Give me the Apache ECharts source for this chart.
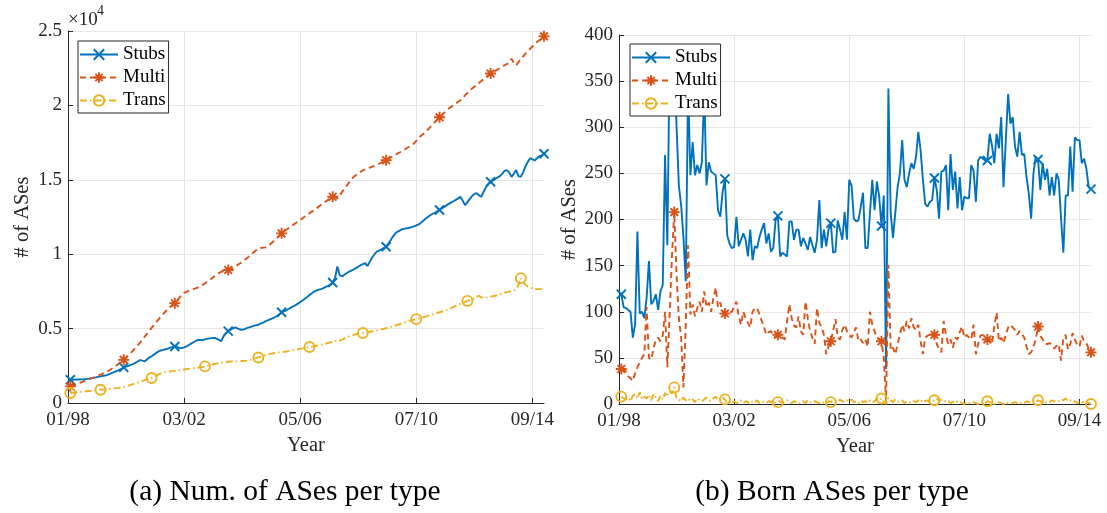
<!DOCTYPE html>
<html>
<head>
<meta charset="utf-8">
<script src="https://cdn.jsdelivr.net/npm/echarts@6/dist/echarts.min.js"></script>
<style>
  html, body { margin: 0; padding: 0; background: #fff; }
  #chart { width: 1107px; height: 513px; }
</style>
</head>
<body>
<div id="chart"></div>
<script>
// x axis: months since January 1998; data run monthly from month 1 (Feb 1998)
const monthTicks = [0, 50, 100, 150, 200];
const monthTickLabels = ['01/98', '03/02', '05/06', '07/10', '09/14'];
const totalTickLabels = ['0', '0.5', '1', '1.5', '2', '2.5'];
const seriesNames = ['Stubs', 'Multi', 'Trans'];
const captions = ['(a) Num. of ASes per type', '(b) Born ASes per type'];

// (a) number of ASes per type
const totalStubs = [
  1560,1565,1570,1575,1580,1590,1600,1620,1640,1660,
  1690,1720,1760,1790,1820,1850,1890,1950,2020,2090,
  2150,2220,2300,2390,2450,2500,2560,2620,2700,2790,
  2880,2850,2800,2930,3050,3140,3250,3360,3470,3530,
  3570,3610,3650,3720,3760,3800,3760,3700,3690,3740,
  3800,3900,3990,4080,4170,4240,4230,4220,4280,4310,
  4340,4360,4380,4330,4240,4160,4480,4700,4830,4930,
  5020,5080,5010,4940,4920,4970,5030,5080,5130,5180,
  5230,5260,5330,5400,5480,5560,5620,5680,5760,5850,
  5960,6100,6160,6230,6320,6410,6500,6580,6680,6790,
  6890,7000,7120,7260,7380,7480,7560,7620,7650,7720,
  7800,7870,7950,8100,8400,9170,8600,8500,8620,8720,
  8820,8900,8970,9060,9150,9260,9330,9400,9200,9500,
  9780,10000,10170,10250,10330,10420,10500,10720,10950,11200,
  11400,11520,11600,11680,11720,11740,11780,11820,11870,11930,
  12000,12120,12250,12380,12500,12620,12700,12780,12880,12970,
  13080,13180,13280,13380,13480,13560,13650,13750,13860,13600,
  13300,13500,13700,13900,14050,14100,13950,13860,14200,14500,
  14700,14870,14950,15050,15150,15250,15400,15600,15650,15500,
  15200,15400,15650,15250,15200,15500,15900,16200,16450,16380,
  16300,16450,16580,16650,16750
];
const totalMulti = [
  1120,1170,1230,1290,1350,1410,1470,1530,1590,1650,
  1710,1770,1830,1900,1970,2040,2120,2220,2320,2420,
  2540,2660,2780,2900,3050,3200,3360,3520,3700,3880,
  4060,4250,4450,4650,4850,5050,5250,5430,5620,5810,
  5980,6150,6320,6470,6600,6710,6880,7080,7270,7400,
  7470,7530,7590,7650,7710,7770,7830,7940,8050,8160,
  8270,8380,8500,8620,8730,8820,8880,8920,8940,9010,
  9090,9180,9270,9370,9480,9600,9720,9860,10000,10130,
  10270,10400,10420,10440,10460,10520,10650,10800,10950,11100,
  11250,11400,11520,11640,11750,11860,11970,12080,12190,12300,
  12420,12530,12640,12750,12860,12970,13080,13200,13320,13430,
  13540,13650,13760,13860,13900,13750,13950,14170,14390,14600,
  14820,15010,15200,15310,15420,15530,15640,15700,15760,15820,
  15880,15940,16000,16080,16160,16240,16320,16400,16500,16600,
  16680,16770,16850,16940,17040,17140,17240,17340,17440,17620,
  17800,17960,18080,18220,18380,18540,18710,18880,19050,19200,
  19350,19500,19650,19790,19900,20020,20130,20240,20350,20510,
  20670,20830,20980,21130,21260,21390,21510,21640,21770,21900,
  22020,22140,22230,22320,22410,22500,22600,22700,22780,22860,
  23140,22860,22700,22900,23100,23300,23480,23640,23800,23960,
  24110,24260,24380,24500,24640
];
const totalTrans = [
  670,690,710,730,745,760,775,790,805,820,
  840,860,875,890,905,920,935,950,965,980,
  1000,1020,1050,1080,1120,1170,1220,1270,1320,1370,
  1420,1470,1530,1590,1640,1680,1760,1840,1920,1990,
  2050,2090,2110,2120,2140,2160,2180,2200,2220,2250,
  2280,2300,2320,2340,2360,2380,2400,2420,2460,2500,
  2540,2580,2620,2650,2680,2710,2730,2750,2770,2790,
  2800,2800,2800,2810,2820,2830,2850,2880,2920,2960,
  3010,3060,3110,3160,3210,3260,3300,3330,3360,3380,
  3400,3420,3440,3460,3490,3520,3550,3580,3610,3640,
  3670,3700,3730,3760,3790,3820,3850,3880,3910,3950,
  3990,4030,4070,4110,4150,4250,4200,4260,4320,4400,
  4470,4530,4580,4620,4660,4690,4700,4730,4760,4790,
  4820,4850,4880,4910,4950,4990,5030,5070,5110,5160,
  5210,5260,5310,5360,5410,5460,5500,5550,5600,5640,
  5680,5720,5760,5800,5850,5900,5950,6000,6050,6100,
  6150,6200,6260,6320,6390,6450,6520,6590,6660,6730,
  6800,6860,6920,6980,7050,7150,7200,7100,7050,7080,
  7120,7150,7180,7210,7250,7300,7350,7400,7450,7490,
  7520,7560,7650,7900,8390,8150,7950,7820,7750,7700,
  7660,7650,7650,7650,7650
];

// (b) ASes born per month, per type
const bornStubs = [
  119,105,104,102,100,72,86,187,98,100,
  93,115,155,108,112,119,102,122,129,270,
  172,380,350,370,300,237,215,180,133,345,
  248,284,248,259,250,262,340,237,262,252,
  250,248,210,203,230,244,183,174,169,170,
  203,171,178,185,178,160,189,156,171,169,
  181,189,196,174,185,165,169,199,204,160,
  164,162,160,198,198,178,189,189,171,180,
  174,167,181,172,164,178,221,169,189,171,
  189,196,164,165,199,189,178,208,178,243,
  237,201,198,199,214,229,169,169,207,243,
  210,241,225,193,226,38,342,207,180,207,
  235,250,286,243,235,250,261,255,268,295,
  275,243,217,214,219,221,245,232,201,252,
  253,259,210,271,232,252,212,246,210,225,
  223,223,259,253,219,264,268,266,264,264,
  293,280,261,293,277,311,235,286,336,304,
  311,279,268,295,270,271,246,228,201,250,
  268,265,232,261,243,255,226,246,226,250,
  243,201,164,226,226,279,230,289,286,286,
  261,266,255,235,233
];
const bornMulti = [
  38,37,35,30,28,25,33,40,45,50,
  54,105,50,48,60,70,72,68,74,100,
  40,97,160,208,140,93,72,18,86,172,
  97,108,95,104,111,100,122,105,110,100,
  115,126,105,110,100,98,97,99,100,105,
  111,95,86,100,93,88,83,100,104,104,
  97,90,83,75,78,79,74,72,75,74,
  72,70,90,108,93,85,83,95,79,75,
  111,93,79,72,65,104,88,83,75,54,
  62,68,79,92,72,70,80,86,79,75,
  72,78,83,68,70,66,70,62,100,86,
  79,72,70,68,50,3,151,58,61,54,
  65,75,86,79,90,82,93,83,80,86,
  68,54,72,74,75,72,75,65,60,56,
  90,75,65,70,61,72,70,78,84,72,
  75,72,70,86,54,65,74,75,72,70,
  68,65,84,99,68,72,66,75,83,86,
  83,80,75,79,76,72,62,54,56,62,
  70,84,74,70,65,65,66,64,60,63,
  65,47,72,75,59,65,77,70,64,62,
  74,68,66,60,56
];
const bornTrans = [
  8,6,5,7,3,9,11,6,13,5,
  8,6,10,4,11,7,3,9,5,12,
  8,14,11,18,6,5,3,7,4,6,
  3,5,2,6,4,3,5,7,4,3,
  6,8,5,3,7,5,1,2,0,3,
  1,2,4,1,3,2,0,3,2,4,
  1,3,2,1,3,2,4,1,2,3,
  1,2,4,2,1,3,2,0,2,3,
  1,4,2,1,3,2,1,0,2,1,
  3,2,4,3,2,5,3,2,4,3,
  5,2,3,1,4,2,3,1,4,2,
  3,6,4,6,3,0,7,4,2,5,
  3,2,4,1,3,2,1,3,2,4,
  2,5,3,4,2,3,4,6,3,5,
  4,2,3,1,2,4,2,3,1,0,
  2,1,3,2,1,0,2,3,1,3,
  2,1,0,1,2,1,0,2,1,0,
  1,2,1,0,2,1,3,2,1,3,
  2,4,3,2,1,3,2,4,3,2,
  3,5,4,6,3,4,2,3,1,2,
  3,1,2,1,0
];

// months that carry a marker
const markerMonths = [1, 24, 46, 69, 92, 114, 137, 160, 182, 205];
const markerMonthsTotalTrans = [1, 14, 36, 59, 82, 104, 127, 150, 172, 195];

const FONT = '"Liberation Serif", "DejaVu Serif", serif';
const AXIS_COLOR = '#262626';
const GRID_COLOR = '#e6e6e6';
const COLORS = { Stubs: '#0072BD', Multi: '#D95319', Trans: '#EDB120' };
const SYMBOLS = {
  Stubs: 'path://M0,0L10,10M10,0L0,10',
  Multi: 'path://M5,0L5,10M0,5L10,5M1.5,1.5L8.5,8.5M8.5,1.5L1.5,8.5',
  Trans: 'circle'
};
const DASH = { Stubs: 'solid', Multi: [6, 4], Trans: [7, 3, 1.5, 3] };

function buildData(values, marks) {
  return values.map(function (v, i) {
    const m = i + 1;
    return marks.indexOf(m) >= 0 ? [m, v] : { value: [m, v], symbol: 'none' };
  });
}

function makeSeries(name, values, marks, idx) {
  return {
    type: 'line',
    name: name,
    xAxisIndex: idx,
    yAxisIndex: idx,
    data: buildData(values, marks),
    symbol: SYMBOLS[name],
    symbolSize: name === 'Trans' ? 10 : (name === 'Multi' ? 11 : 9),
    symbolKeepAspect: true,
    showSymbol: true,
    showAllSymbol: true,
    clip: true,
    silent: true,
    animation: false,
    emphasis: { disabled: true },
    lineStyle: { color: COLORS[name], width: 1.9, type: DASH[name] },
    itemStyle: { color: 'rgba(0,0,0,0)', borderColor: COLORS[name], borderWidth: 1.9 }
  };
}

function xAxisFor(idx) {
  return {
    gridIndex: idx,
    type: 'value',
    min: 0, max: 205, interval: 50,
    name: 'Year',
    nameLocation: 'middle',
    nameGap: 30,
    nameTextStyle: { fontFamily: FONT, fontSize: 20.5, color: AXIS_COLOR },
    axisLine: { show: true, lineStyle: { color: AXIS_COLOR, width: 1 } },
    axisTick: { show: true, inside: true, length: 5, lineStyle: { color: AXIS_COLOR } },
    axisLabel: {
      fontFamily: FONT, fontSize: 19, color: AXIS_COLOR, margin: 8,
      showMaxLabel: false,
      formatter: function (v) {
        const k = monthTicks.indexOf(v);
        return k >= 0 ? monthTickLabels[k] : '';
      }
    },
    splitLine: { show: true, showMinLine: false, showMaxLine: false, lineStyle: { color: GRID_COLOR, width: 1 } }
  };
}

function yAxisFor(idx, max, interval, labels, gap) {
  return {
    gridIndex: idx,
    type: 'value',
    min: 0, max: max, interval: interval,
    name: '# of ASes',
    nameLocation: 'middle',
    nameRotate: 90,
    nameGap: gap,
    nameTextStyle: { fontFamily: FONT, fontSize: 20.5, color: AXIS_COLOR },
    axisLine: { show: true, lineStyle: { color: AXIS_COLOR, width: 1 } },
    axisTick: { show: true, inside: true, length: 5, lineStyle: { color: AXIS_COLOR } },
    axisLabel: {
      fontFamily: FONT, fontSize: 19, color: AXIS_COLOR, margin: 6,
      formatter: function (v) {
        return labels ? labels[Math.round(v / interval)] : String(v);
      }
    },
    splitLine: { show: true, showMinLine: false, lineStyle: { color: GRID_COLOR, width: 1 } }
  };
}

function legendAt(left, top) {
  return {
    orient: 'vertical',
    left: left, top: top,
    data: seriesNames,
    itemWidth: 38, itemHeight: 13, itemGap: 4,
    padding: [4, 3, 3, 1],
    backgroundColor: '#ffffff',
    borderColor: AXIS_COLOR, borderWidth: 1, borderRadius: 0,
    selectedMode: false,
    textStyle: { fontFamily: FONT, fontSize: 19, color: '#000' }
  };
}

const chart = echarts.init(document.getElementById('chart'), null, { renderer: 'canvas' });
chart.setOption({
  animation: false,
  backgroundColor: '#ffffff',
  grid: [
    { left: 68, top: 31, width: 476, height: 372 },
    { left: 619, top: 35, width: 472, height: 369 }
  ],
  xAxis: [xAxisFor(0), xAxisFor(1)],
  yAxis: [
    yAxisFor(0, 25000, 5000, totalTickLabels, 35),
    yAxisFor(1, 400, 50, null, 38)
  ],
  legend: [legendAt(78, 41), legendAt(630, 44)],
  series: [
    makeSeries('Stubs', totalStubs, markerMonths, 0),
    makeSeries('Multi', totalMulti, markerMonths, 0),
    makeSeries('Trans', totalTrans, markerMonthsTotalTrans, 0),
    makeSeries('Stubs', bornStubs, markerMonths, 1),
    makeSeries('Multi', bornMulti, markerMonths, 1),
    makeSeries('Trans', bornTrans, markerMonths, 1)
  ],
  graphic: [
    { type: 'text', left: 68, top: 11, silent: true,
      style: { text: '\u00d710', font: '19px ' + FONT, fill: AXIS_COLOR } },
    { type: 'text', left: 97, top: 4, silent: true,
      style: { text: '4', font: '14px ' + FONT, fill: AXIS_COLOR } },
    { type: 'text', x: 285, y: 492, silent: true,
      style: { text: captions[0], font: '29.5px ' + FONT, fill: '#000', align: 'center', verticalAlign: 'middle' } },
    { type: 'text', x: 832, y: 492, silent: true,
      style: { text: captions[1], font: '29.5px ' + FONT, fill: '#000', align: 'center', verticalAlign: 'middle' } }
  ]
});
</script>
</body>
</html>
